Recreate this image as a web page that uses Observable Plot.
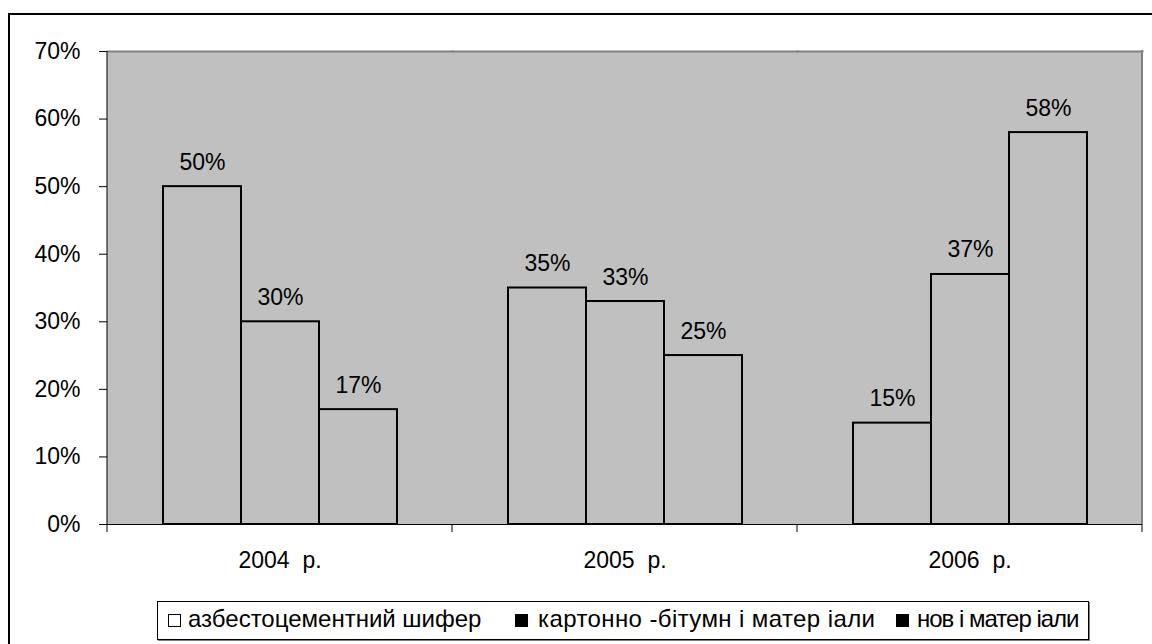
<!DOCTYPE html>
<html>
<head>
<meta charset="utf-8">
<script src="https://cdn.jsdelivr.net/npm/d3@7"></script>
<script src="https://cdn.jsdelivr.net/npm/@observablehq/plot@0.6"></script>
<style>
  body { margin: 0; background: #fff; }
  #wrap { position: relative; width: 1152px; height: 644px; overflow: hidden; font-family: "Liberation Sans", Arial, sans-serif; }
  #border { position: absolute; left: 8px; top: 13px; width: 2000px; height: 2000px; border-left: 2.5px solid #000; border-top: 2px solid #000; }
  #chart { position: absolute; left: 0; top: 0; }
  #legend { position: absolute; left: 157px; top: 601px; width: 930px; height: 37px; border: 1px solid #000; box-shadow: 1px 1px 0 #808080; background: #fff; font-size: 24px; color: #000; }
  .sw { position: absolute; top: 12px; width: 11px; height: 11px; border: 1.5px solid #000; }
  .lt { position: absolute; top: 5px; line-height: 24px; white-space: pre; }
</style>
</head>
<body>
<div id="wrap">
  <div id="border"></div>
  <div id="chart"></div>
  <div id="legend"></div>
</div>
<script>
// ---- data ----
const years = ["2004\u00a0 р.", "2005\u00a0 р.", "2006\u00a0 р."];
const series = ["азбестоцементний шифер", "картонно -бітумн і матер іали", "нов і матер іали"];
const asbestos = [0.50, 0.35, 0.15];
const carton = [0.30, 0.33, 0.37];
const newMat = [0.17, 0.25, 0.58];
const yTicks = [0, 0.1, 0.2, 0.3, 0.4, 0.5, 0.6, 0.7];
const legendFill = ["#fff", "#000", "#000"];

const seriesValues = [asbestos, carton, newMat];
const data = [];
years.forEach((yr, i) => series.forEach((s, j) => data.push({year: yr, series: s, value: seriesValues[j][i]})));

const pct = d3.format(".0%");

const chart = Plot.plot({
  width: 1152,
  height: 644,
  marginLeft: 107,
  marginRight: 10,
  marginTop: 51,
  marginBottom: 120,
  style: {fontFamily: "'Liberation Sans', Arial, sans-serif", fontSize: "23px", color: "#000", background: "transparent", overflow: "visible"},
  fx: {domain: years, padding: 0, label: null, axis: "bottom", tickSize: 0, tickPadding: 27},
  x: {domain: series, paddingInner: 0, paddingOuter: 0.71, axis: null},
  y: {domain: [0, 0.7], ticks: yTicks, tickFormat: pct, tickSize: 8, tickPadding: 19, label: null},
  marks: [
    Plot.frame({anchor: "top", stroke: "#808080", strokeWidth: 2}),
    Plot.barY(data, {fx: "year", x: "series", y: "value", fill: "none", stroke: "#000", strokeWidth: 2}),
    Plot.text(data, {fx: "year", x: "series", y: "value", text: d => pct(d.value), lineAnchor: "bottom", dy: -17, fill: "#000"}),
    Plot.ruleY([0], {stroke: "#000", strokeWidth: 1})
  ]
});
document.getElementById("chart").appendChild(chart);

// plot-area background, axis lines and boundary ticks from the library's scales
const fx = chart.scale("fx");
const ys = chart.scale("y");
const x0 = fx.apply(years[0]);
const xEnd = fx.apply(years[years.length - 1]) + fx.bandwidth;
const yb = ys.apply(0), yt = ys.apply(0.7);
d3.select(chart).insert("rect", ":first-child")
  .attr("x", x0).attr("y", yt).attr("width", xEnd - x0).attr("height", yb - yt)
  .attr("fill", "#c0c0c0");
const g = d3.select(chart).append("g");
g.append("line").attr("x1", xEnd).attr("x2", xEnd).attr("y1", yt - 1).attr("y2", yb).attr("stroke", "#808080").attr("stroke-width", 2);
g.append("line").attr("x1", x0).attr("x2", x0).attr("y1", yt).attr("y2", yb).attr("stroke", "#000").attr("stroke-width", 1);
const bounds = years.map(y => fx.apply(y)).concat([xEnd]);
bounds.forEach(b => g.append("line").attr("x1", b).attr("x2", b).attr("y1", yb).attr("y2", yb + 8).attr("stroke", "#000").attr("stroke-width", 1));

// legend
const legend = document.getElementById("legend");
const swX = [10, 357, 738];
const txX = [30, 380, 759];
const spacing = [0, 0.4, -1];
series.forEach((s, i) => {
  const sw = document.createElement("div");
  sw.className = "sw";
  sw.style.left = swX[i] + "px";
  sw.style.background = legendFill[i];
  legend.appendChild(sw);
  const t = document.createElement("div");
  t.className = "lt";
  t.style.left = txX[i] + "px";
  t.style.letterSpacing = spacing[i] + "px";
  t.textContent = s;
  legend.appendChild(t);
});
</script>
</body>
</html>
